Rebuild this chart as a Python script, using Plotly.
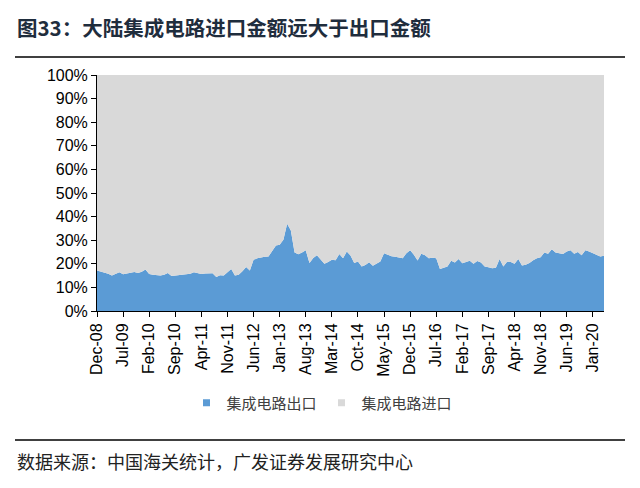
import plotly.graph_objects as go

months = ["Jan","Feb","Mar","Apr","May","Jun","Jul","Aug","Sep","Oct","Nov","Dec"]
dates = []
y, m = 2008, 11
for _ in range(137):
    dates.append(f"{months[m]}-{str(y)[2:]}")
    m += 1
    if m == 12:
        m = 0
        y += 1

export_share = [
    17.2, 16.8, 16.5, 15.8, 15.0, 15.8, 16.4, 15.6, 15.8, 16.0,
    16.5, 16.1, 16.6, 17.6, 15.7, 15.4, 15.3, 15.0, 15.4, 16.1,
    14.8, 15.0, 15.3, 15.5, 15.7, 15.8, 16.4, 16.0, 15.7, 15.9,
    16.1, 16.0, 14.4, 15.2, 15.0, 16.5, 17.8, 15.0, 15.4, 16.8,
    18.6, 17.2, 21.7, 22.3, 22.8, 23.0, 23.1, 25.5, 27.8, 28.1,
    30.2, 37.0, 34.1, 24.8, 24.0, 24.8, 25.7, 20.3, 22.5, 23.6,
    22.0, 20.0, 20.8, 21.7, 21.5, 24.1, 22.3, 25.2, 23.5, 20.3,
    21.0, 18.9, 19.5, 20.7, 19.2, 20.2, 21.0, 24.5, 23.8, 23.2,
    23.0, 22.8, 22.4, 24.5, 25.7, 23.8, 21.4, 24.3, 23.6, 22.4,
    22.6, 22.4, 17.8, 18.3, 18.9, 21.3, 20.6, 22.0, 20.2, 20.8,
    21.3, 20.0, 21.2, 20.5, 18.9, 18.5, 18.1, 18.3, 22.0, 18.9,
    20.9, 20.8, 20.0, 22.0, 19.3, 19.6, 20.3, 21.5, 22.4, 22.8,
    24.8, 24.3, 26.2, 24.8, 24.5, 24.1, 25.2, 25.7, 24.3, 25.0,
    23.6, 25.7, 25.2, 24.6, 23.8, 23.1, 23.4,
]
import_share = [round(100 - v, 1) for v in export_share]
tick_labels = dates[::7]
series_names = ["集成电路出口", "集成电路进口"]
series_colors = ["#5B9BD5", "#D9D9D9"]

fig = go.Figure()
for vals, name, col in zip([export_share, import_share], series_names, series_colors):
    fig.add_trace(go.Scatter(
        x=dates, y=vals, name=name, mode="lines", showlegend=False,
        stackgroup="one", line=dict(width=0, color=col), fillcolor=col,
    ))
for name, col in zip(series_names, series_colors):
    fig.add_trace(go.Scatter(
        x=[None], y=[None], name=name, mode="markers",
        marker=dict(symbol="square", size=7, color=col),
    ))

# page body has an 8px margin; work in page pixels minus 8
OFF = 8
W, H = 640 - OFF, 488 - OFF
L, R, T, B = 97 - OFF, 604 - OFF, 75 - OFF, 311 - OFF
pw, ph = R - L, B - T
def px(x): return (x - OFF - L) / pw
def py(y): return (B - (y - OFF)) / ph

fig.update_layout(
    width=W, height=H,
    margin=dict(l=L, r=W - R, t=T, b=H - B),
    paper_bgcolor="white", plot_bgcolor="white",
    font=dict(family="Liberation Sans, Arial, sans-serif", color="#000000"),
    showlegend=True,
    legend=dict(orientation="h", x=px(322), xanchor="center", y=py(403), yanchor="middle",
                font=dict(family="Noto Sans CJK SC", size=15, color="#404040"),
                itemwidth=30, traceorder="normal"),
    xaxis=dict(type="category", range=[0, len(dates) - 1], tickmode="array",
               tickvals=tick_labels, ticktext=tick_labels, tickangle=-90,
               ticks="outside", ticklen=5, tickcolor="#000000",
               showline=True, linecolor="#000000", linewidth=1,
               showgrid=False, tickfont=dict(size=16)),
    yaxis=dict(range=[0, 100], tickvals=list(range(0, 101, 10)),
               ticktext=[f"{v}%" for v in range(0, 101, 10)],
               ticks="outside", ticklen=5, tickcolor="#000000",
               showline=True, linecolor="#000000", linewidth=1,
               showgrid=False, tickfont=dict(size=16), zeroline=False),
    annotations=[
        dict(text="<b>图33：大陆集成电路进口金额远大于出口金额</b>", xref="paper", yref="paper",
             x=px(15), y=py(27), xanchor="left", yanchor="middle", showarrow=False,
             font=dict(family="Noto Sans CJK SC", size=20.5, color="#1F2D3D")),
        dict(text="数据来源：中国海关统计，广发证券发展研究中心", xref="paper", yref="paper",
             x=px(15), y=py(461), xanchor="left", yanchor="middle", showarrow=False,
             font=dict(family="Noto Sans CJK SC", size=18, color="#222222")),
    ],
    shapes=[
        dict(type="line", xref="paper", yref="paper", x0=px(15), x1=px(625),
             y0=py(57), y1=py(57), line=dict(color="#000000", width=1.5)),
        dict(type="line", xref="paper", yref="paper", x0=px(15), x1=px(625),
             y0=py(440), y1=py(440), line=dict(color="#000000", width=1.5)),
    ],
)

fig.write_html("out.html")
